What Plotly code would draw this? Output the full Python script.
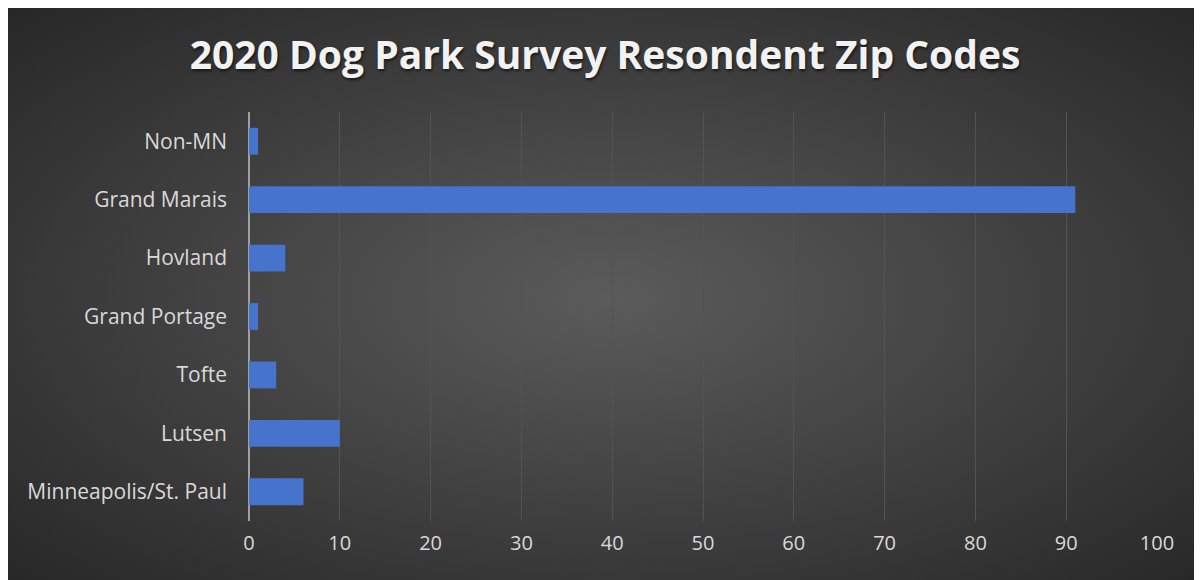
import plotly.graph_objects as go
import urllib.parse

categories = ["Minneapolis/St. Paul", "Lutsen", "Tofte", "Grand Portage", "Hovland", "Grand Marais", "Non-MN"]
values = [6, 10, 3, 1, 4, 91, 1]
x_ticks = [0, 10, 20, 30, 40, 50, 60, 70, 80, 90, 100]

W, H = 1202, 580
L, R, T, B = 241, 53, 104, 67
pw, ph = W - L - R, H - T - B

svg = ('<svg xmlns="http://www.w3.org/2000/svg" width="1202" height="580" viewBox="0 0 1202 580" preserveAspectRatio="none">'
       '<defs><radialGradient id="g" cx="0.5" cy="0.5" r="0.72">'
       '<stop offset="0" stop-color="#5b5b5b"/><stop offset="1" stop-color="#262626"/>'
       '</radialGradient></defs><rect width="1202" height="580" fill="url(#g)"/></svg>')
src = "data:image/svg+xml;charset=utf-8," + urllib.parse.quote(svg)

fig = go.Figure(go.Bar(
    x=values, y=categories, orientation="h",
    marker=dict(color="#4674cd", line=dict(width=0)),
))

fig.add_layout_image(dict(
    source=src, xref="paper", yref="paper",
    x=-L / pw, y=1 + T / ph,
    sizex=W / pw, sizey=H / ph,
    sizing="stretch", xanchor="left", yanchor="top", layer="below",
))

fig.update_layout(
    width=W, height=H,
    margin=dict(l=L, r=R, t=T, b=B, pad=0),
    paper_bgcolor="#2a2a2a", plot_bgcolor="rgba(0,0,0,0)",
    bargap=0.54,
    showlegend=False,
    title=dict(
        text="<b>2020 Dog Park Survey Resondent Zip Codes</b>",
        x=597 / W, xanchor="center", y=1 - 47 / H, yanchor="middle",
        font=dict(family="Open Sans", size=39, color="#f2f2f2",
                  shadow="1px 2px 3px rgba(0,0,0,0.6)"),
    ),
    xaxis=dict(
        range=[0, 100], tickvals=x_ticks, showgrid=True, gridcolor="#535353", gridwidth=1,
        zeroline=True, zerolinecolor="#a0a0a0", zerolinewidth=2,
        tickfont=dict(family="Open Sans", size=20, color="#d9d9d9"),
        ticklabelstandoff=8, showline=False,
    ),
    yaxis=dict(
        categoryorder="array", categoryarray=categories,
        showgrid=False, zeroline=False, showline=False,
        tickfont=dict(family="Open Sans", size=21, color="#d9d9d9"),
        ticklabelstandoff=21,
    ),
)

fig.write_html("out.html")
